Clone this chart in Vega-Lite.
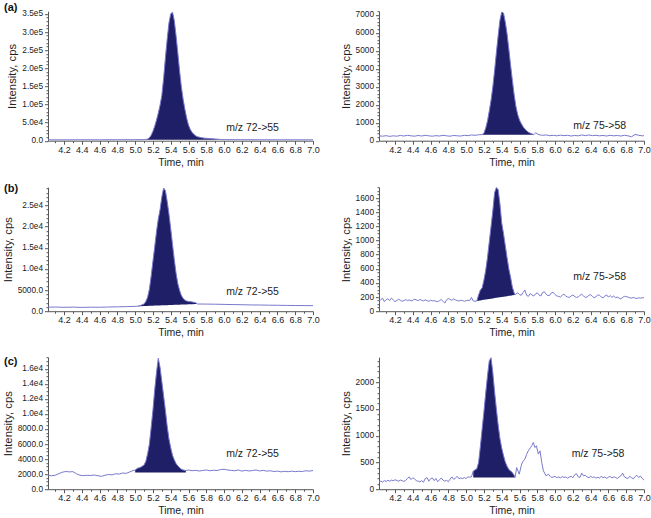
{
"$schema":"https://vega.github.io/schema/vega-lite/v6.json",
"padding":{"left":2,"top":1.2,"right":0,"bottom":0},
"config":{"view":{"stroke":null},"font":"Liberation Sans",
"axis":{"domainColor":"#555","tickColor":"#555","labelColor":"#222","titleColor":"#222","labelFont":"Liberation Sans","titleFont":"Liberation Sans","titleFontWeight":"normal","grid":false,"labelOverlap":false,"labelFlush":false},
"axisX":{"labelFontSize":9,"titleFontSize":10.5,"tickSize":3,"labelPadding":1,"titlePadding":3},
"axisY":{"labelFontSize":8.3,"titleFontSize":11.3,"tickSize":3,"labelPadding":2,"titlePadding":4},
"title":{"font":"Liberation Sans","fontSize":11,"fontWeight":"bold","color":"#111","anchor":"start","frame":"group","baseline":"top"}},
"datasets":{
"notes":[{"p":"a1","t":6.024,"y":34800,"label":"m/z 72->55"},{"p":"a2","t":6.205,"y":833,"label":"m/z 75->58"},{"p":"b1","t":6.024,"y":4480,"label":"m/z 72->55"},{"p":"b2","t":6.205,"y":490,"label":"m/z 75->58"},{"p":"c1","t":6.024,"y":4640,"label":"m/z 72->55"},{"p":"c2","t":6.187,"y":656,"label":"m/z 75->58"}],
"a1":[{"t":4.02,"y":2500},{"t":4.2,"y":2400},{"t":4.4,"y":2600},{"t":4.6,"y":2500},{"t":4.8,"y":2700},{"t":5.0,"y":2800},{"t":5.1,"y":3000},
{"t":5.12,"y":3500,"b":2500},{"t":5.14,"y":4500,"b":2500},{"t":5.16,"y":8000,"b":2500},{"t":5.18,"y":15000,"b":2500},{"t":5.2,"y":26000,"b":2500},{"t":5.22,"y":40000,"b":2500},{"t":5.24,"y":57000,"b":2500},{"t":5.26,"y":76000,"b":2500},{"t":5.28,"y":98000,"b":2500},{"t":5.3,"y":125000,"b":2500},{"t":5.32,"y":172000,"b":2500},{"t":5.34,"y":228000,"b":2500},{"t":5.36,"y":280000,"b":2500},{"t":5.38,"y":325000,"b":2500},{"t":5.4,"y":350000,"b":2500},{"t":5.42,"y":355000,"b":2500},{"t":5.44,"y":332000,"b":2500},{"t":5.46,"y":290000,"b":2500},{"t":5.48,"y":242000,"b":2500},{"t":5.5,"y":192000,"b":2500},{"t":5.52,"y":148000,"b":2500},{"t":5.54,"y":114000,"b":2500},{"t":5.56,"y":86000,"b":2500},{"t":5.58,"y":62000,"b":2500},{"t":5.6,"y":43000,"b":2500},{"t":5.62,"y":31000,"b":2500},{"t":5.64,"y":23000,"b":2500},{"t":5.66,"y":17500,"b":2500},{"t":5.68,"y":13500,"b":2500},{"t":5.7,"y":11000,"b":2500},{"t":5.74,"y":8500,"b":2500},{"t":5.78,"y":7000,"b":2500},{"t":5.84,"y":5800,"b":2500},{"t":5.9,"y":4600,"b":2500},{"t":5.96,"y":3500,"b":2500},
{"t":6.0,"y":3000},{"t":6.2,"y":2800},{"t":6.4,"y":2600},{"t":6.6,"y":2500},{"t":6.8,"y":2500},{"t":7.0,"y":2400}],
"a2":[{"t":4.02,"y":270},{"t":4.06,"y":250},{"t":4.1,"y":280},{"t":4.14,"y":240},{"t":4.18,"y":270},{"t":4.22,"y":250},{"t":4.26,"y":290},{"t":4.3,"y":260},{"t":4.34,"y":300},{"t":4.38,"y":270},{"t":4.42,"y":250},{"t":4.46,"y":290},{"t":4.5,"y":260},{"t":4.54,"y":300},{"t":4.58,"y":270},{"t":4.62,"y":250},{"t":4.66,"y":280},{"t":4.7,"y":260},{"t":4.74,"y":300},{"t":4.78,"y":270},{"t":4.82,"y":250},{"t":4.86,"y":290},{"t":4.9,"y":270},{"t":4.94,"y":260},{"t":4.98,"y":300},{"t":5.02,"y":280},{"t":5.06,"y":320},{"t":5.1,"y":300},{"t":5.14,"y":330},
{"t":5.18,"y":340,"b":330},{"t":5.2,"y":420,"b":330},{"t":5.22,"y":700,"b":330},{"t":5.24,"y":1100,"b":330},{"t":5.26,"y":1650,"b":330},{"t":5.28,"y":2250,"b":330},{"t":5.3,"y":3000,"b":330},{"t":5.32,"y":3900,"b":330},{"t":5.34,"y":4900,"b":330},{"t":5.36,"y":5850,"b":330},{"t":5.38,"y":6700,"b":330},{"t":5.4,"y":7150,"b":330},{"t":5.42,"y":7100,"b":330},{"t":5.44,"y":6600,"b":330},{"t":5.46,"y":5950,"b":330},{"t":5.48,"y":5100,"b":330},{"t":5.5,"y":4200,"b":330},{"t":5.52,"y":3350,"b":330},{"t":5.54,"y":2550,"b":330},{"t":5.56,"y":1900,"b":330},{"t":5.58,"y":1450,"b":330},{"t":5.6,"y":1150,"b":330},{"t":5.62,"y":950,"b":330},{"t":5.64,"y":780,"b":330},{"t":5.66,"y":650,"b":330},{"t":5.68,"y":550,"b":330},{"t":5.7,"y":470,"b":330},{"t":5.72,"y":420,"b":330},{"t":5.74,"y":380,"b":330},{"t":5.76,"y":330,"b":330},
{"t":5.78,"y":440},{"t":5.82,"y":330},{"t":5.86,"y":300},{"t":5.9,"y":320},{"t":5.94,"y":280},{"t":5.98,"y":300},{"t":6.02,"y":270},{"t":6.06,"y":310},{"t":6.1,"y":280},{"t":6.14,"y":300},{"t":6.18,"y":260},{"t":6.22,"y":290},{"t":6.26,"y":270},{"t":6.3,"y":320},{"t":6.34,"y":280},{"t":6.38,"y":320},{"t":6.42,"y":280},{"t":6.46,"y":300},{"t":6.5,"y":270},{"t":6.54,"y":290},{"t":6.58,"y":260},{"t":6.62,"y":300},{"t":6.66,"y":270},{"t":6.7,"y":290},{"t":6.74,"y":260},{"t":6.78,"y":300},{"t":6.82,"y":270},{"t":6.86,"y":220},{"t":6.9,"y":350},{"t":6.94,"y":300},{"t":6.98,"y":270},{"t":7.0,"y":280}],
"b1":[{"t":4.02,"y":950},{"t":4.1,"y":980},{"t":4.2,"y":920},{"t":4.3,"y":960},{"t":4.4,"y":900},{"t":4.5,"y":940},{"t":4.6,"y":930},{"t":4.7,"y":990},{"t":4.8,"y":1030},{"t":4.9,"y":1080},{"t":5.0,"y":1140},
{"t":5.02,"y":1160,"b":1160},{"t":5.06,"y":1350,"b":1192},{"t":5.1,"y":1700,"b":1224},{"t":5.12,"y":2300,"b":1239},{"t":5.14,"y":3300,"b":1255},{"t":5.16,"y":5200,"b":1271},{"t":5.18,"y":8300,"b":1287},{"t":5.2,"y":11800,"b":1303},{"t":5.22,"y":15200,"b":1319},{"t":5.24,"y":18800,"b":1335},{"t":5.26,"y":21800,"b":1351},{"t":5.28,"y":24000,"b":1366},{"t":5.3,"y":27000,"b":1382},{"t":5.32,"y":29100,"b":1398},{"t":5.34,"y":28500,"b":1414},{"t":5.36,"y":26000,"b":1430},{"t":5.38,"y":23000,"b":1446},{"t":5.4,"y":19500,"b":1462},{"t":5.42,"y":15800,"b":1478},{"t":5.44,"y":12200,"b":1494},{"t":5.46,"y":9000,"b":1509},{"t":5.48,"y":6500,"b":1525},{"t":5.5,"y":4900,"b":1541},{"t":5.52,"y":3700,"b":1557},{"t":5.54,"y":3000,"b":1573},{"t":5.56,"y":2600,"b":1589},{"t":5.58,"y":2400,"b":1605},{"t":5.6,"y":2300,"b":1620},{"t":5.64,"y":2200,"b":1652},{"t":5.68,"y":2000,"b":1684},{"t":5.7,"y":1700,"b":1700},
{"t":5.8,"y":1680},{"t":5.9,"y":1650},{"t":6.0,"y":1610},{"t":6.1,"y":1560},{"t":6.2,"y":1530},{"t":6.3,"y":1480},{"t":6.4,"y":1460},{"t":6.5,"y":1420},{"t":6.6,"y":1400},{"t":6.7,"y":1370},{"t":6.8,"y":1340},{"t":6.9,"y":1330},{"t":7.0,"y":1300}],
"b2":[{"t":4.02,"y":150},{"t":4.04,"y":160},{"t":4.06,"y":185},{"t":4.08,"y":135},{"t":4.1,"y":165},{"t":4.12,"y":175},{"t":4.14,"y":150},{"t":4.16,"y":185},{"t":4.18,"y":160},{"t":4.2,"y":135},{"t":4.22,"y":150},{"t":4.24,"y":170},{"t":4.26,"y":155},{"t":4.28,"y":140},{"t":4.3,"y":150},{"t":4.32,"y":165},{"t":4.34,"y":150},{"t":4.36,"y":160},{"t":4.38,"y":145},{"t":4.4,"y":155},{"t":4.42,"y":170},{"t":4.44,"y":160},{"t":4.46,"y":150},{"t":4.48,"y":165},{"t":4.5,"y":155},{"t":4.52,"y":145},{"t":4.54,"y":160},{"t":4.56,"y":150},{"t":4.58,"y":140},{"t":4.6,"y":155},{"t":4.62,"y":145},{"t":4.64,"y":150},{"t":4.66,"y":140},{"t":4.68,"y":135},{"t":4.7,"y":150},{"t":4.72,"y":165},{"t":4.74,"y":140},{"t":4.76,"y":115},{"t":4.78,"y":160},{"t":4.8,"y":180},{"t":4.82,"y":165},{"t":4.84,"y":155},{"t":4.86,"y":175},{"t":4.88,"y":160},{"t":4.9,"y":150},{"t":4.92,"y":145},{"t":4.94,"y":155},{"t":4.96,"y":150},{"t":4.98,"y":140},{"t":5.0,"y":150},{"t":5.02,"y":155},{"t":5.04,"y":150},{"t":5.06,"y":195},{"t":5.08,"y":145},{"t":5.1,"y":140},
{"t":5.12,"y":145,"b":145},{"t":5.14,"y":230,"b":149},{"t":5.16,"y":300,"b":153},{"t":5.18,"y":330,"b":157},{"t":5.2,"y":440,"b":161},{"t":5.22,"y":580,"b":165},{"t":5.24,"y":760,"b":169},{"t":5.26,"y":980,"b":173},{"t":5.28,"y":1200,"b":177},{"t":5.3,"y":1420,"b":181},{"t":5.32,"y":1680,"b":185},{"t":5.34,"y":1750,"b":189},{"t":5.36,"y":1720,"b":193},{"t":5.38,"y":1520,"b":197},{"t":5.4,"y":1250,"b":201},{"t":5.42,"y":1100,"b":205},{"t":5.44,"y":930,"b":209},{"t":5.46,"y":760,"b":213},{"t":5.48,"y":600,"b":217},{"t":5.5,"y":480,"b":220},{"t":5.52,"y":340,"b":224},{"t":5.54,"y":260,"b":228},{"t":5.55,"y":230,"b":230},
{"t":5.56,"y":245},{"t":5.58,"y":260},{"t":5.6,"y":235},{"t":5.62,"y":225},{"t":5.64,"y":265},{"t":5.66,"y":300},{"t":5.68,"y":225},{"t":5.7,"y":210},{"t":5.72,"y":250},{"t":5.74,"y":230},{"t":5.76,"y":215},{"t":5.78,"y":245},{"t":5.8,"y":260},{"t":5.82,"y":230},{"t":5.84,"y":215},{"t":5.86,"y":265},{"t":5.88,"y":275},{"t":5.9,"y":240},{"t":5.92,"y":220},{"t":5.94,"y":225},{"t":5.96,"y":260},{"t":5.98,"y":265},{"t":6.0,"y":235},{"t":6.02,"y":215},{"t":6.04,"y":210},{"t":6.06,"y":200},{"t":6.08,"y":225},{"t":6.1,"y":240},{"t":6.12,"y":215},{"t":6.14,"y":200},{"t":6.16,"y":195},{"t":6.18,"y":215},{"t":6.2,"y":230},{"t":6.22,"y":210},{"t":6.24,"y":195},{"t":6.26,"y":200},{"t":6.28,"y":225},{"t":6.3,"y":240},{"t":6.32,"y":215},{"t":6.34,"y":195},{"t":6.36,"y":200},{"t":6.38,"y":225},{"t":6.4,"y":235},{"t":6.42,"y":210},{"t":6.44,"y":190},{"t":6.46,"y":205},{"t":6.48,"y":230},{"t":6.5,"y":225},{"t":6.52,"y":200},{"t":6.54,"y":190},{"t":6.56,"y":215},{"t":6.58,"y":230},{"t":6.6,"y":200},{"t":6.62,"y":220},{"t":6.64,"y":195},{"t":6.66,"y":215},{"t":6.68,"y":190},{"t":6.7,"y":200},{"t":6.72,"y":185},{"t":6.74,"y":175},{"t":6.76,"y":195},{"t":6.78,"y":210},{"t":6.8,"y":205},{"t":6.82,"y":200},{"t":6.84,"y":190},{"t":6.86,"y":185},{"t":6.88,"y":195},{"t":6.9,"y":185},{"t":6.92,"y":180},{"t":6.94,"y":190},{"t":6.96,"y":185},{"t":6.98,"y":190},{"t":7.0,"y":190}],
"c1":[{"t":4.02,"y":1850},{"t":4.06,"y":1780},{"t":4.1,"y":1850},{"t":4.14,"y":2050},{"t":4.18,"y":2250},{"t":4.22,"y":2350},{"t":4.26,"y":2300},{"t":4.3,"y":2330},{"t":4.34,"y":2050},{"t":4.38,"y":1850},{"t":4.42,"y":1800},{"t":4.46,"y":1850},{"t":4.5,"y":1820},{"t":4.54,"y":1880},{"t":4.58,"y":1800},{"t":4.62,"y":1700},{"t":4.66,"y":1850},{"t":4.7,"y":1950},{"t":4.74,"y":1900},{"t":4.78,"y":2050},{"t":4.82,"y":2000},{"t":4.86,"y":2150},{"t":4.9,"y":2100},{"t":4.94,"y":2300},{"t":4.98,"y":2500},
{"t":5.0,"y":2500,"b":2220},{"t":5.02,"y":2750,"b":2220},{"t":5.06,"y":2900,"b":2220},{"t":5.1,"y":3200,"b":2220},{"t":5.12,"y":3700,"b":2220},{"t":5.14,"y":4700,"b":2220},{"t":5.16,"y":6000,"b":2220},{"t":5.18,"y":8200,"b":2220},{"t":5.2,"y":10500,"b":2220},{"t":5.22,"y":13200,"b":2220},{"t":5.24,"y":15500,"b":2220},{"t":5.26,"y":17400,"b":2220},{"t":5.28,"y":16200,"b":2220},{"t":5.3,"y":14300,"b":2220},{"t":5.32,"y":12400,"b":2220},{"t":5.34,"y":10500,"b":2220},{"t":5.36,"y":8400,"b":2220},{"t":5.38,"y":6700,"b":2220},{"t":5.4,"y":5500,"b":2220},{"t":5.42,"y":4500,"b":2220},{"t":5.44,"y":3900,"b":2220},{"t":5.46,"y":3400,"b":2220},{"t":5.48,"y":3100,"b":2220},{"t":5.5,"y":2850,"b":2220},{"t":5.52,"y":2650,"b":2220},{"t":5.54,"y":2550,"b":2220},{"t":5.57,"y":2480,"b":2220},
{"t":5.6,"y":2550},{"t":5.64,"y":2450},{"t":5.68,"y":2500},{"t":5.72,"y":2420},{"t":5.76,"y":2480},{"t":5.8,"y":2550},{"t":5.84,"y":2450},{"t":5.88,"y":2520},{"t":5.92,"y":2480},{"t":5.96,"y":2600},{"t":6.0,"y":2650},{"t":6.04,"y":2550},{"t":6.08,"y":2500},{"t":6.12,"y":2450},{"t":6.16,"y":2550},{"t":6.2,"y":2400},{"t":6.24,"y":2500},{"t":6.28,"y":2420},{"t":6.32,"y":2480},{"t":6.36,"y":2550},{"t":6.4,"y":2420},{"t":6.44,"y":2500},{"t":6.48,"y":2400},{"t":6.52,"y":2450},{"t":6.56,"y":2350},{"t":6.6,"y":2400},{"t":6.64,"y":2300},{"t":6.68,"y":2380},{"t":6.72,"y":2320},{"t":6.76,"y":2400},{"t":6.8,"y":2330},{"t":6.84,"y":2380},{"t":6.88,"y":2350},{"t":6.92,"y":2450},{"t":6.96,"y":2400},{"t":7.0,"y":2480}],
"c2":[{"t":4.02,"y":140},{"t":4.04,"y":150},{"t":4.06,"y":135},{"t":4.08,"y":160},{"t":4.1,"y":145},{"t":4.12,"y":165},{"t":4.14,"y":150},{"t":4.16,"y":170},{"t":4.18,"y":160},{"t":4.2,"y":175},{"t":4.22,"y":165},{"t":4.24,"y":150},{"t":4.26,"y":170},{"t":4.28,"y":160},{"t":4.3,"y":145},{"t":4.32,"y":165},{"t":4.34,"y":200},{"t":4.36,"y":230},{"t":4.38,"y":180},{"t":4.4,"y":215},{"t":4.42,"y":190},{"t":4.44,"y":160},{"t":4.46,"y":150},{"t":4.48,"y":135},{"t":4.5,"y":160},{"t":4.52,"y":130},{"t":4.54,"y":200},{"t":4.56,"y":215},{"t":4.58,"y":150},{"t":4.6,"y":195},{"t":4.62,"y":210},{"t":4.64,"y":160},{"t":4.66,"y":200},{"t":4.68,"y":140},{"t":4.7,"y":175},{"t":4.72,"y":210},{"t":4.74,"y":170},{"t":4.76,"y":150},{"t":4.78,"y":165},{"t":4.8,"y":140},{"t":4.82,"y":190},{"t":4.84,"y":230},{"t":4.86,"y":185},{"t":4.88,"y":210},{"t":4.9,"y":240},{"t":4.92,"y":195},{"t":4.94,"y":210},{"t":4.96,"y":200},{"t":4.98,"y":215},{"t":5.0,"y":200},{"t":5.02,"y":230},{"t":5.04,"y":225},{"t":5.06,"y":230},
{"t":5.08,"y":340,"b":220},{"t":5.1,"y":360,"b":220},{"t":5.12,"y":380,"b":220},{"t":5.14,"y":500,"b":220},{"t":5.16,"y":800,"b":220},{"t":5.18,"y":1130,"b":220},{"t":5.2,"y":1450,"b":220},{"t":5.22,"y":1800,"b":220},{"t":5.24,"y":2120,"b":220},{"t":5.26,"y":2400,"b":220},{"t":5.28,"y":2460,"b":220},{"t":5.3,"y":2180,"b":220},{"t":5.32,"y":1820,"b":220},{"t":5.34,"y":1500,"b":220},{"t":5.36,"y":1200,"b":220},{"t":5.38,"y":950,"b":220},{"t":5.4,"y":770,"b":220},{"t":5.42,"y":630,"b":220},{"t":5.44,"y":510,"b":220},{"t":5.46,"y":430,"b":220},{"t":5.48,"y":370,"b":220},{"t":5.5,"y":340,"b":220},{"t":5.52,"y":310,"b":220},{"t":5.54,"y":260,"b":220},{"t":5.55,"y":220,"b":220},
{"t":5.568,"y":405},{"t":5.597,"y":281},{"t":5.624,"y":469},{"t":5.64,"y":520},{"t":5.66,"y":562},{"t":5.68,"y":650},{"t":5.699,"y":718},{"t":5.725,"y":780},{"t":5.74,"y":820},{"t":5.755,"y":874},{"t":5.774,"y":780},{"t":5.79,"y":812},{"t":5.812,"y":656},{"t":5.831,"y":718},{"t":5.85,"y":500},{"t":5.869,"y":343},{"t":5.899,"y":250},{"t":5.925,"y":281},{"t":5.945,"y":240},{"t":5.963,"y":218},{"t":5.98,"y":230},{"t":6.0,"y":240},{"t":6.02,"y":215},{"t":6.04,"y":230},{"t":6.06,"y":210},{"t":6.08,"y":235},{"t":6.1,"y":220},{"t":6.12,"y":230},{"t":6.14,"y":205},{"t":6.16,"y":225},{"t":6.18,"y":240},{"t":6.2,"y":215},{"t":6.22,"y":270},{"t":6.24,"y":290},{"t":6.26,"y":230},{"t":6.28,"y":220},{"t":6.3,"y":300},{"t":6.32,"y":250},{"t":6.34,"y":260},{"t":6.36,"y":230},{"t":6.38,"y":215},{"t":6.4,"y":240},{"t":6.42,"y":220},{"t":6.44,"y":230},{"t":6.46,"y":205},{"t":6.48,"y":225},{"t":6.5,"y":210},{"t":6.52,"y":240},{"t":6.54,"y":215},{"t":6.56,"y":230},{"t":6.58,"y":200},{"t":6.6,"y":225},{"t":6.62,"y":240},{"t":6.64,"y":210},{"t":6.66,"y":230},{"t":6.68,"y":220},{"t":6.7,"y":200},{"t":6.72,"y":230},{"t":6.74,"y":250},{"t":6.76,"y":300},{"t":6.78,"y":230},{"t":6.8,"y":210},{"t":6.82,"y":200},{"t":6.84,"y":240},{"t":6.86,"y":215},{"t":6.88,"y":195},{"t":6.9,"y":235},{"t":6.92,"y":260},{"t":6.94,"y":220},{"t":6.96,"y":245},{"t":6.98,"y":200},{"t":7.0,"y":170}]
},
"columns":2,
"spacing":{"row":46,"column":66},
"bounds":"flush",
"align":"each",
"concat":[
{"width":265,"height":129.5,"title":{"text":"(a)","dx":-44,"offset":-3.7},
"encoding":{"x":{"field":"t","type":"quantitative","scale":{"domain":[4.02,7.0],"nice":false,"zero":false},"axis":{"title":"Time, min","values":[4.1,4.2,4.3,4.4,4.5,4.6,4.7,4.8,4.9,5.0,5.1,5.2,5.3,5.4,5.5,5.6,5.7,5.8,5.9,6.0,6.1,6.2,6.3,6.4,6.5,6.6,6.7,6.8,6.9,7.0],"labelExpr":"round(datum.value*10)%2==0 ? format(datum.value,'.1f') : ''","tickSize":{"condition":{"test":"round(datum.value*10)%2==0","value":3.5},"value":2}}},
"y":{"field":"y","type":"quantitative","scale":{"domain":[0,357500],"nice":false},"axis":{"title":"Intensity, cps","values":[0,10000,20000,30000,40000,50000,60000,70000,80000,90000,100000,110000,120000,130000,140000,150000,160000,170000,180000,190000,200000,210000,220000,230000,240000,250000,260000,270000,280000,290000,300000,310000,320000,330000,340000,350000],"labelExpr":"datum.value%50000==0 ? (datum.value<10000 ? format(datum.value,'.1f') : replace(format(datum.value,'.1e'),'e+','e')) : ''","tickSize":{"condition":{"test":"datum.value%50000==0","value":3.5},"value":2}}}},
"layer":[
{"data":{"name":"a1"},"transform":[{"filter":"isValid(datum.b)"}],"mark":{"type":"area","color":"#1f1f68","interpolate":"linear"},"encoding":{"y2":{"field":"b"}}},
{"data":{"name":"a1"},"mark":{"type":"line","color":"#7878cc","strokeWidth":1}},
{"data":{"name":"notes"},"transform":[{"filter":"datum.p=='a1'"}],"mark":{"type":"text","align":"left","baseline":"middle","fontSize":10.5,"color":"#222"},"encoding":{"text":{"field":"label"}}}]},
{"width":265,"height":129.5,
"encoding":{"x":{"field":"t","type":"quantitative","scale":{"domain":[4.02,7.0],"nice":false,"zero":false},"axis":{"title":"Time, min","values":[4.1,4.2,4.3,4.4,4.5,4.6,4.7,4.8,4.9,5.0,5.1,5.2,5.3,5.4,5.5,5.6,5.7,5.8,5.9,6.0,6.1,6.2,6.3,6.4,6.5,6.6,6.7,6.8,6.9,7.0],"labelExpr":"round(datum.value*10)%2==0 ? format(datum.value,'.1f') : ''","tickSize":{"condition":{"test":"round(datum.value*10)%2==0","value":3.5},"value":2}}},
"y":{"field":"y","type":"quantitative","scale":{"domain":[0,7200],"nice":false},"axis":{"title":"Intensity, cps","values":[0,200,400,600,800,1000,1200,1400,1600,1800,2000,2200,2400,2600,2800,3000,3200,3400,3600,3800,4000,4200,4400,4600,4800,5000,5200,5400,5600,5800,6000,6200,6400,6600,6800,7000,7200],"labelExpr":"datum.value%1000==0 ? format(datum.value,'d') : ''","tickSize":{"condition":{"test":"datum.value%1000==0","value":3.5},"value":2}}}},
"layer":[
{"data":{"name":"a2"},"transform":[{"filter":"isValid(datum.b)"}],"mark":{"type":"area","color":"#1f1f68","interpolate":"linear"},"encoding":{"y2":{"field":"b"}}},
{"data":{"name":"a2"},"mark":{"type":"line","color":"#7878cc","strokeWidth":1}},
{"data":{"name":"notes"},"transform":[{"filter":"datum.p=='a2'"}],"mark":{"type":"text","align":"left","baseline":"middle","fontSize":10.5,"color":"#222"},"encoding":{"text":{"field":"label"}}}]},
{"width":265,"height":124,"title":{"text":"(b)","dx":-44,"offset":-11},
"encoding":{"x":{"field":"t","type":"quantitative","scale":{"domain":[4.02,7.0],"nice":false,"zero":false},"axis":{"title":"Time, min","values":[4.1,4.2,4.3,4.4,4.5,4.6,4.7,4.8,4.9,5.0,5.1,5.2,5.3,5.4,5.5,5.6,5.7,5.8,5.9,6.0,6.1,6.2,6.3,6.4,6.5,6.6,6.7,6.8,6.9,7.0],"labelExpr":"round(datum.value*10)%2==0 ? format(datum.value,'.1f') : ''","tickSize":{"condition":{"test":"round(datum.value*10)%2==0","value":3.5},"value":2}}},
"y":{"field":"y","type":"quantitative","scale":{"domain":[0,29300],"nice":false},"axis":{"title":"Intensity, cps","values":[0,1000,2000,3000,4000,5000,6000,7000,8000,9000,10000,11000,12000,13000,14000,15000,16000,17000,18000,19000,20000,21000,22000,23000,24000,25000,26000,27000,28000,29000],"labelExpr":"datum.value%5000==0 ? (datum.value<10000 ? format(datum.value,'.1f') : replace(format(datum.value,'.1e'),'e+','e')) : ''","tickSize":{"condition":{"test":"datum.value%5000==0","value":3.5},"value":2}}}},
"layer":[
{"data":{"name":"b1"},"transform":[{"filter":"isValid(datum.b)"}],"mark":{"type":"area","color":"#1f1f68","interpolate":"linear"},"encoding":{"y2":{"field":"b"}}},
{"data":{"name":"b1"},"mark":{"type":"line","color":"#7878cc","strokeWidth":1}},
{"data":{"name":"notes"},"transform":[{"filter":"datum.p=='b1'"}],"mark":{"type":"text","align":"left","baseline":"middle","fontSize":10.5,"color":"#222"},"encoding":{"text":{"field":"label"}}}]},
{"width":265,"height":124,
"encoding":{"x":{"field":"t","type":"quantitative","scale":{"domain":[4.02,7.0],"nice":false,"zero":false},"axis":{"title":"Time, min","values":[4.1,4.2,4.3,4.4,4.5,4.6,4.7,4.8,4.9,5.0,5.1,5.2,5.3,5.4,5.5,5.6,5.7,5.8,5.9,6.0,6.1,6.2,6.3,6.4,6.5,6.6,6.7,6.8,6.9,7.0],"labelExpr":"round(datum.value*10)%2==0 ? format(datum.value,'.1f') : ''","tickSize":{"condition":{"test":"round(datum.value*10)%2==0","value":3.5},"value":2}}},
"y":{"field":"y","type":"quantitative","scale":{"domain":[0,1755],"nice":false},"axis":{"title":"Intensity, cps","values":[0,50,100,150,200,250,300,350,400,450,500,550,600,650,700,750,800,850,900,950,1000,1050,1100,1150,1200,1250,1300,1350,1400,1450,1500,1550,1600,1650,1700,1750],"labelExpr":"datum.value%200==0 ? format(datum.value,'d') : ''","tickSize":{"condition":{"test":"datum.value%200==0","value":3.5},"value":2}}}},
"layer":[
{"data":{"name":"b2"},"transform":[{"filter":"isValid(datum.b)"}],"mark":{"type":"area","color":"#1f1f68","interpolate":"linear"},"encoding":{"y2":{"field":"b"}}},
{"data":{"name":"b2"},"mark":{"type":"line","color":"#7878cc","strokeWidth":1}},
{"data":{"name":"notes"},"transform":[{"filter":"datum.p=='b2'"}],"mark":{"type":"text","align":"left","baseline":"middle","fontSize":10.5,"color":"#222"},"encoding":{"text":{"field":"label"}}}]},
{"width":265,"height":132,"title":{"text":"(c)","dx":-44,"offset":-14.6},
"encoding":{"x":{"field":"t","type":"quantitative","scale":{"domain":[4.02,7.0],"nice":false,"zero":false},"axis":{"title":"Time, min","values":[4.1,4.2,4.3,4.4,4.5,4.6,4.7,4.8,4.9,5.0,5.1,5.2,5.3,5.4,5.5,5.6,5.7,5.8,5.9,6.0,6.1,6.2,6.3,6.4,6.5,6.6,6.7,6.8,6.9,7.0],"labelExpr":"round(datum.value*10)%2==0 ? format(datum.value,'.1f') : ''","tickSize":{"condition":{"test":"round(datum.value*10)%2==0","value":3.5},"value":2}}},
"y":{"field":"y","type":"quantitative","scale":{"domain":[0,17540],"nice":false},"axis":{"title":"Intensity, cps","values":[0,500,1000,1500,2000,2500,3000,3500,4000,4500,5000,5500,6000,6500,7000,7500,8000,8500,9000,9500,10000,10500,11000,11500,12000,12500,13000,13500,14000,14500,15000,15500,16000,16500,17000,17500],"labelExpr":"datum.value%2000==0 ? (datum.value<10000 ? format(datum.value,'.1f') : replace(format(datum.value,'.1e'),'e+','e')) : ''","tickSize":{"condition":{"test":"datum.value%2000==0","value":3.5},"value":2}}}},
"layer":[
{"data":{"name":"c1"},"transform":[{"filter":"isValid(datum.b)"}],"mark":{"type":"area","color":"#1f1f68","interpolate":"linear"},"encoding":{"y2":{"field":"b"}}},
{"data":{"name":"c1"},"mark":{"type":"line","color":"#7878cc","strokeWidth":1}},
{"data":{"name":"notes"},"transform":[{"filter":"datum.p=='c1'"}],"mark":{"type":"text","align":"left","baseline":"middle","fontSize":10.5,"color":"#222"},"encoding":{"text":{"field":"label"}}}]},
{"width":265,"height":132,
"encoding":{"x":{"field":"t","type":"quantitative","scale":{"domain":[4.02,7.0],"nice":false,"zero":false},"axis":{"title":"Time, min","values":[4.1,4.2,4.3,4.4,4.5,4.6,4.7,4.8,4.9,5.0,5.1,5.2,5.3,5.4,5.5,5.6,5.7,5.8,5.9,6.0,6.1,6.2,6.3,6.4,6.5,6.6,6.7,6.8,6.9,7.0],"labelExpr":"round(datum.value*10)%2==0 ? format(datum.value,'.1f') : ''","tickSize":{"condition":{"test":"round(datum.value*10)%2==0","value":3.5},"value":2}}},
"y":{"field":"y","type":"quantitative","scale":{"domain":[0,2469],"nice":false},"axis":{"title":"Intensity, cps","values":[0,100,200,300,400,500,600,700,800,900,1000,1100,1200,1300,1400,1500,1600,1700,1800,1900,2000,2100,2200,2300,2400],"labelExpr":"datum.value%500==0 ? format(datum.value,'d') : ''","tickSize":{"condition":{"test":"datum.value%500==0","value":3.5},"value":2}}}},
"layer":[
{"data":{"name":"c2"},"transform":[{"filter":"isValid(datum.b)"}],"mark":{"type":"area","color":"#1f1f68","interpolate":"linear"},"encoding":{"y2":{"field":"b"}}},
{"data":{"name":"c2"},"mark":{"type":"line","color":"#7878cc","strokeWidth":1}},
{"data":{"name":"notes"},"transform":[{"filter":"datum.p=='c2'"}],"mark":{"type":"text","align":"left","baseline":"middle","fontSize":10.5,"color":"#222"},"encoding":{"text":{"field":"label"}}}]}
]
}
